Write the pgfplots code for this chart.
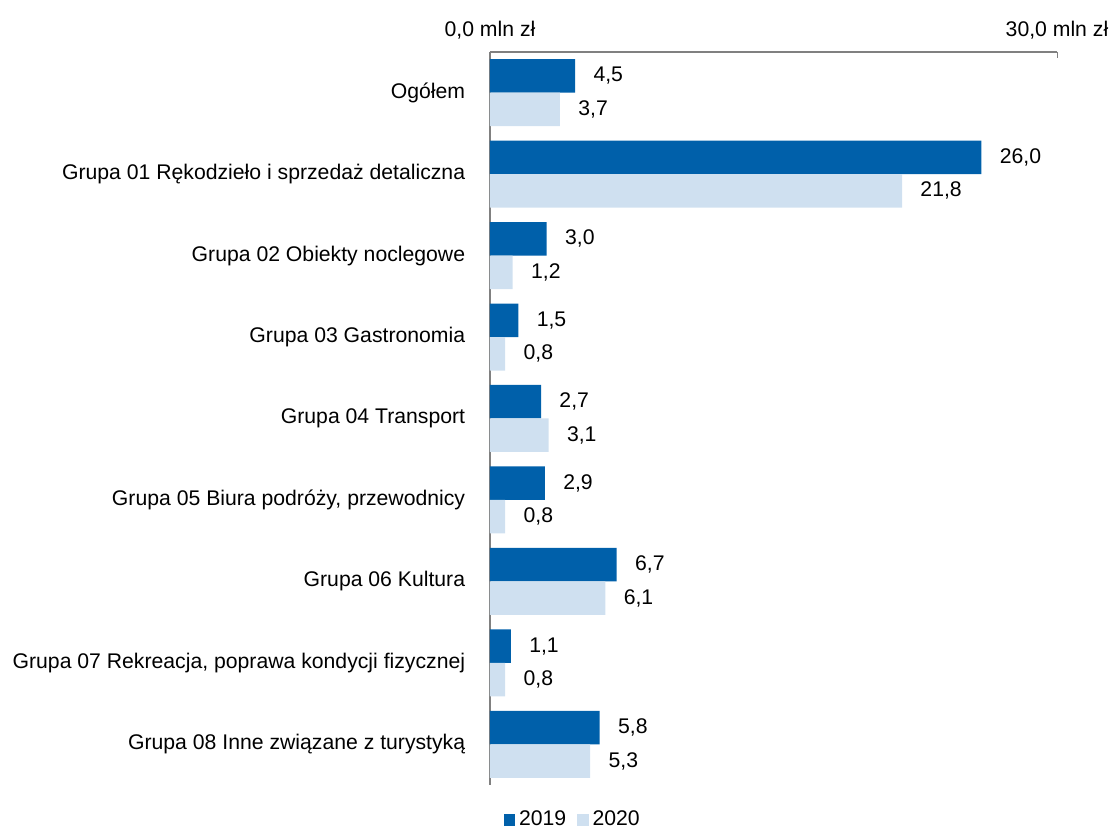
\documentclass[border=0pt]{standalone}
\usepackage{fontspec}
\setmainfont{Liberation Sans}
\usepackage{pgfplots}
\pgfplotsset{compat=1.18}

\definecolor{dark}{RGB}{0,96,170}
\definecolor{light}{RGB}{207,224,240}
\definecolor{axisgray}{RGB}{128,128,128}

\begin{document}
\fontsize{10.6}{13}\selectfont
\begin{tikzpicture}
\begin{axis}[
    xbar,
    scale only axis,
    width=283.5pt,
    height=366.5pt,
    xmin=0, xmax=30,
    ymin=-0.5, ymax=8.5,
    axis x line*=top,
    axis y line*=left,
    axis line style={axisgray, line width=0.6pt},
    xtick={0,30},
    xticklabels={{0,0 mln zł},{30,0 mln zł}},
    x tick label style={font=\fontsize{10.6}{13}\selectfont, inner sep=1pt, yshift=5pt},
    major tick length=3pt,
    tick style={axisgray},
    ytick={0,...,8},
    yticklabels={
        Grupa 08 Inne związane z turystyką,
        {Grupa 07 Rekreacja, poprawa kondycji fizycznej},
        Grupa 06 Kultura,
        {Grupa 05 Biura podróży, przewodnicy},
        Grupa 04 Transport,
        Grupa 03 Gastronomia,
        Grupa 02 Obiekty noclegowe,
        Grupa 01 Rękodzieło i sprzedaż detaliczna,
        Ogółem},
    y tick label style={font=\fontsize{10.6}{13}\selectfont, anchor=east, xshift=-5.7pt},
    y tick style={draw=none},
    bar width=16.75pt,
    nodes near coords,
    nodes near coords style={font=\fontsize{10.6}{13}\selectfont, anchor=west, xshift=5.5pt,
        /pgf/number format/.cd, fixed, fixed zerofill, precision=1, use comma,
        assume math mode=true},
    legend style={at={(0.145,-0.0477)}, anchor=center, legend columns=-1, draw=none,
        inner sep=0pt, outer sep=0pt, nodes={inner sep=0.5pt, outer sep=0pt},
        font=\fontsize{10.6}{13}\selectfont,
        /tikz/every odd column/.append style={column sep=1.5pt},
        /tikz/every even column/.append style={column sep=5pt}},
    legend image code/.code={\fill[#1] (0cm,-0.1cm) rectangle (0.2cm,0.1cm);},
    clip=false,
]
\addplot[fill=dark, draw=none, bar shift=8.375pt] coordinates {
    (5.8,0) (1.1,1) (6.7,2) (2.9,3) (2.7,4) (1.5,5) (3.0,6) (26.0,7) (4.5,8)};
\addplot[fill=light, draw=none, bar shift=-8.375pt] coordinates {
    (5.3,0) (0.8,1) (6.1,2) (0.8,3) (3.1,4) (0.8,5) (1.2,6) (21.8,7) (3.7,8)};
\legend{2019,2020}
% reserve the margins of the reference
\path[draw=none] (rel axis cs:0,1) -- ([xshift=-245pt, yshift=26pt]rel axis cs:0,1);
\path[draw=none] (rel axis cs:1,0) -- ([xshift=27.5pt, yshift=-22.5pt]rel axis cs:1,0);
\end{axis}
\end{tikzpicture}
\end{document}
